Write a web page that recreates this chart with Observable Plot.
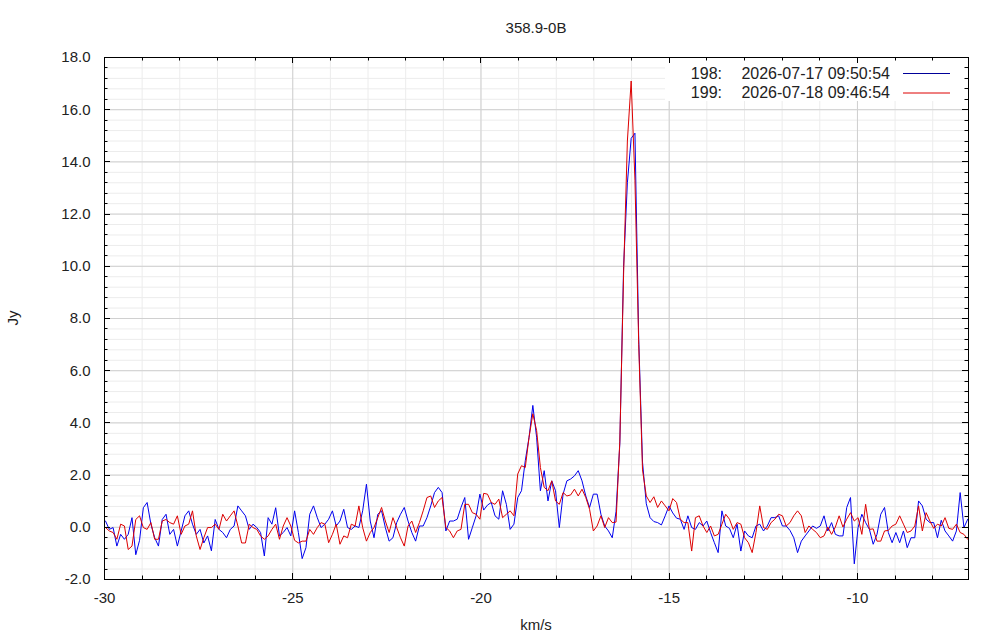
<!DOCTYPE html>
<html>
<head>
<meta charset="utf-8">
<script src="https://cdn.jsdelivr.net/npm/d3@7"></script>
<script src="https://cdn.jsdelivr.net/npm/@observablehq/plot@0.6"></script>
<style>
  body { margin: 0; background: #fff; }
  #chart svg { display: block; }
</style>
</head>
<body>
<div id="chart"></div>
<script>
const title = "358.9-0B";
const xLabel = "km/s";
const yLabel = "Jy";
const seriesIds = ["198:", "199:"];
const seriesDates = ["2026-07-17 09:50:54", "2026-07-18 09:46:54"];
const seriesColors = ["#0000ee", "#dd0000"];
const legendColors = ["#000099", "#dd0000"];

// channel grid (km/s)
const v0 = -29.973, dv = 0.10045;

// flux density (Jy) per channel
const blue = [
 0.24,-0.08,-0.01,-0.72,-0.27,-0.46,-0.27,0.37,-1.05,-0.5,
 0.75,0.95,0.12,-0.4,-0.72,0.3,0.5,-0.27,-0.08,-0.72,
 -0.14,0.44,0.63,0.12,-0.27,-0.08,-0.6,-0.33,-0.9,0.3,
 -0.08,-0.2,-0.4,-0.08,0.05,0.82,0.63,0.44,-0.08,0.12,
 -0.01,-0.2,-1.1,0.37,0.12,0.75,-0.33,-0.2,-0.01,-0.33,
 0.63,-0.2,-1.2,-0.78,0.5,0.82,0.37,-0.01,0.12,0.31,
 0.63,0.05,0.24,0.69,-0.01,-0.08,0.05,-0.01,0.63,1.65,
 0.24,-0.4,0.5,0.63,-0.01,-0.53,-0.4,0.18,0.5,0.76,
 0.24,-0.2,-0.53,0.05,0.05,0.37,0.82,1.33,1.53,1.33,
 -0.14,0.24,0.24,0.31,0.76,1.14,-0.46,-0.01,0.44,1.27,
 0.66,0.85,0.95,0.44,0.31,1.4,0.88,-0.08,0.12,1.14,
 1.4,2.55,3.45,4.67,3.45,1.4,2.17,1.01,1.78,1.4,
 -0.01,1.27,1.78,1.85,1.97,2.17,1.78,1.2,0.76,1.27,
 1.27,0.5,0.05,-0.14,-0.4,0.6,3.2,10.0,13.2,14.9,
 15.1,7.2,2.5,0.9,0.37,0.22,0.18,0.09,0.44,0.82,
 0.55,0.35,0.31,-0.08,0.44,-0.01,-0.08,0.18,0.05,0.24,
 -0.2,-0.59,-0.97,0.63,0.05,-0.04,-0.4,0.12,-0.91,-0.14,
 -0.33,-0.4,0.05,0.12,-0.14,0.05,0.37,0.37,0.44,0.05,
 0.05,-0.12,-0.4,-0.97,-0.53,-0.33,-0.14,0.05,-0.04,0.05,
 0.44,-0.14,0.18,-0.27,-0.33,-0.33,0.76,1.14,-1.4,-0.01,
 0.5,0.18,-0.08,-0.65,-0.27,0.5,0.76,-0.2,-0.59,-0.2,
 -0.59,-0.14,-0.78,-0.4,-0.4,1.01,0.82,0.31,0.18,0.18,
 -0.4,0.27,-0.14,-0.33,-0.53,-0.14,1.33,-0.01,0.31
];
const red = [
 -0.01,-0.14,-0.2,-0.46,0.12,0.05,-0.85,-0.72,0.3,0.44,
 -0.01,-0.08,0.18,-0.46,-0.46,0.24,0.3,0.18,0.12,0.44,
 -0.27,0.05,0.12,0.63,-0.33,-0.85,-0.4,-0.01,-0.01,0.12,
 -0.08,0.5,0.24,0.44,0.63,0.05,-0.6,-0.6,0.12,-0.01,
 -0.08,-0.33,-0.46,-0.33,-0.08,0.12,-0.46,0.05,0.37,0.05,
 -0.5,-0.6,-0.53,-0.53,-0.08,-0.27,-0.01,0.18,0.12,-0.59,
 -0.27,0.12,-0.65,-0.33,-0.4,0.12,0.05,0.82,-0.01,-0.53,
 -0.2,-0.01,0.37,0.76,0.24,-0.2,0.37,-0.01,-0.4,-0.72,
 0.05,0.24,-0.2,0.18,0.63,1.14,1.2,0.76,1.01,1.14,
 -0.01,-0.14,-0.4,-0.14,-0.08,0.88,0.88,0.56,0.5,0.31,
 1.3,1.27,0.95,0.88,1.08,0.37,0.5,0.63,0.44,2.04,
 2.36,2.29,3.45,4.35,3.71,2.29,1.53,1.4,1.78,1.01,
 0.88,1.33,1.2,1.24,1.46,1.2,1.46,1.14,0.69,-0.14,
 0.05,0.44,-0.01,0.37,0.18,0.2,3.3,9.7,14.8,17.1,
 13.3,7.0,2.2,1.2,0.95,1.17,0.76,1.01,0.82,0.63,
 1.1,0.95,0.31,0.18,0.18,-0.91,0.37,0.44,0.05,-0.2,
 0.05,-0.33,-0.27,0.12,0.5,0.31,-0.08,0.18,0.12,-0.4,
 -0.59,-0.97,-0.2,0.82,-0.01,-0.08,0.18,0.31,0.5,0.44,
 0.05,0.18,0.44,0.63,0.44,-0.2,0.05,-0.08,-0.2,-0.4,
 -0.33,0.01,-0.27,0.01,0.44,0.01,0.31,0.56,0.24,0.37,
 -0.27,0.88,-0.08,-0.06,-0.53,-0.53,-0.14,-0.12,0.05,0.12,
 0.44,0.12,-0.2,-0.14,0.05,0.82,-0.14,0.56,0.24,-0.04,
 0.12,0.05,0.37,-0.04,-0.08,0.12,-0.2,-0.27,-0.46
];

const xMajor = [-30, -25, -20, -15, -10];
const xMinor = [-30,-29,-28,-27,-26,-25,-24,-23,-22,-21,-20,-19,-18,-17,-16,-15,-14,-13,-12,-11,-10,-9,-8];
const yMajor = [-2, 0, 2, 4, 6, 8, 10, 12, 14, 16, 18];
const yMinor = d3.range(0, 51).map(i => -2 + i * 0.4);

const velocity = blue.map((_, i) => v0 + i * dv);
const rows198 = velocity.map((v, i) => ({v, flux: blue[i]}));
const rows199 = velocity.map((v, i) => ({v, flux: red[i]}));

const FONT = "'Liberation Sans', Arial, Helvetica, sans-serif";

function isMajor(arr, v) { return arr.some(m => Math.abs(m - v) < 1e-6); }

// legend background (opaque key, hides grid)
function legendBox(index, scales, values, dims) {
  const R = dims.width - dims.marginRight;
  const T = dims.marginTop;
  const g = d3.create("svg:g");
  g.append("rect").attr("x", R - 303).attr("y", T + 1).attr("width", 302).attr("height", 43).attr("fill", "white");
  return g.node();
}

function legendText(index, scales, values, dims) {
  const R = dims.width - dims.marginRight;
  const T = dims.marginTop;
  const g = d3.create("svg:g").attr("font-family", FONT).attr("font-size", 16).attr("fill", "#222");
  seriesIds.forEach((id, i) => {
    const yy = T + 16 + i * 19.5;
    g.append("text").attr("x", R - 246).attr("y", yy).attr("text-anchor", "end").attr("dy", "0.35em").text(id);
    g.append("text").attr("x", R - 78).attr("y", yy).attr("text-anchor", "end").attr("dy", "0.35em").text(seriesDates[i]);
    g.append("line").attr("x1", R - 65).attr("x2", R - 18).attr("y1", yy + 0.5).attr("y2", yy + 0.5)
      .attr("stroke", legendColors[i]).attr("stroke-width", 1);
  });
  return g.node();
}

function tickMarks(index, scales, values, dims) {
  const L = dims.marginLeft, R = dims.width - dims.marginRight;
  const T = dims.marginTop, B = dims.height - dims.marginBottom;
  const g = d3.create("svg:g").attr("stroke", "black").attr("stroke-width", 1);
  for (const v of xMinor) {
    const px = Math.round(scales.x(v)) + 0.5;
    const len = isMajor(xMajor, v) ? 6 : 3.5;
    g.append("line").attr("x1", px).attr("x2", px).attr("y1", B).attr("y2", B - len);
    g.append("line").attr("x1", px).attr("x2", px).attr("y1", T).attr("y2", T + len);
  }
  for (const v of yMinor) {
    const py = Math.round(scales.y(v)) + 0.5;
    const len = isMajor(yMajor, v) ? 6 : 3.5;
    g.append("line").attr("y1", py).attr("y2", py).attr("x1", L).attr("x2", L + len);
    g.append("line").attr("y1", py).attr("y2", py).attr("x1", R).attr("x2", R - len);
  }
  return g.node();
}

function labels(index, scales, values, dims) {
  const L = dims.marginLeft, R = dims.width - dims.marginRight;
  const T = dims.marginTop, B = dims.height - dims.marginBottom;
  const cx = (L + R) / 2, cy = (T + B) / 2;
  const g = d3.create("svg:g").attr("font-family", FONT).attr("font-size", 15).attr("fill", "#222").attr("text-anchor", "middle");
  g.append("text").attr("x", cx).attr("y", 28).attr("dy", "0.35em").text(title);
  g.append("text").attr("x", cx).attr("y", 625).attr("dy", "0.35em").text(xLabel);
  g.append("text").attr("transform", `translate(13,${cy}) rotate(-90)`).attr("dy", "0.35em").text(yLabel);
  return g.node();
}

const chart = Plot.plot({
  width: 1000,
  height: 640,
  marginLeft: 104,
  marginRight: 32,
  marginTop: 57,
  marginBottom: 61,
  style: {fontFamily: FONT, fontSize: "15px", color: "#222", background: "white"},
  x: {domain: [-30, -7.05], label: null},
  y: {domain: [-2, 18], label: null},
  marks: [
    Plot.gridX(xMinor, {stroke: "#ececec", strokeOpacity: 1}),
    Plot.gridY(yMinor, {stroke: "#ececec", strokeOpacity: 1}),
    Plot.gridX(xMajor, {stroke: "#d0d0d0", strokeOpacity: 1}),
    Plot.gridY(yMajor, {stroke: "#d0d0d0", strokeOpacity: 1}),
    legendBox,
    Plot.line(rows198, {x: "v", y: "flux", stroke: seriesColors[0], strokeWidth: 1}),
    Plot.line(rows199, {x: "v", y: "flux", stroke: seriesColors[1], strokeWidth: 1}),
    Plot.axisX({ticks: xMajor, anchor: "bottom", tickSize: 0, tickPadding: 13, tickFormat: d => String(d), label: null, fontSize: 15}),
    Plot.axisY({ticks: yMajor, anchor: "left", tickSize: 0, tickPadding: 14, tickFormat: d => d.toFixed(1), label: null, fontSize: 15}),
    Plot.frame({stroke: "black", strokeWidth: 1}),
    tickMarks,
    legendText,
    labels
  ]
});
document.getElementById("chart").appendChild(chart);
</script>
</body>
</html>
